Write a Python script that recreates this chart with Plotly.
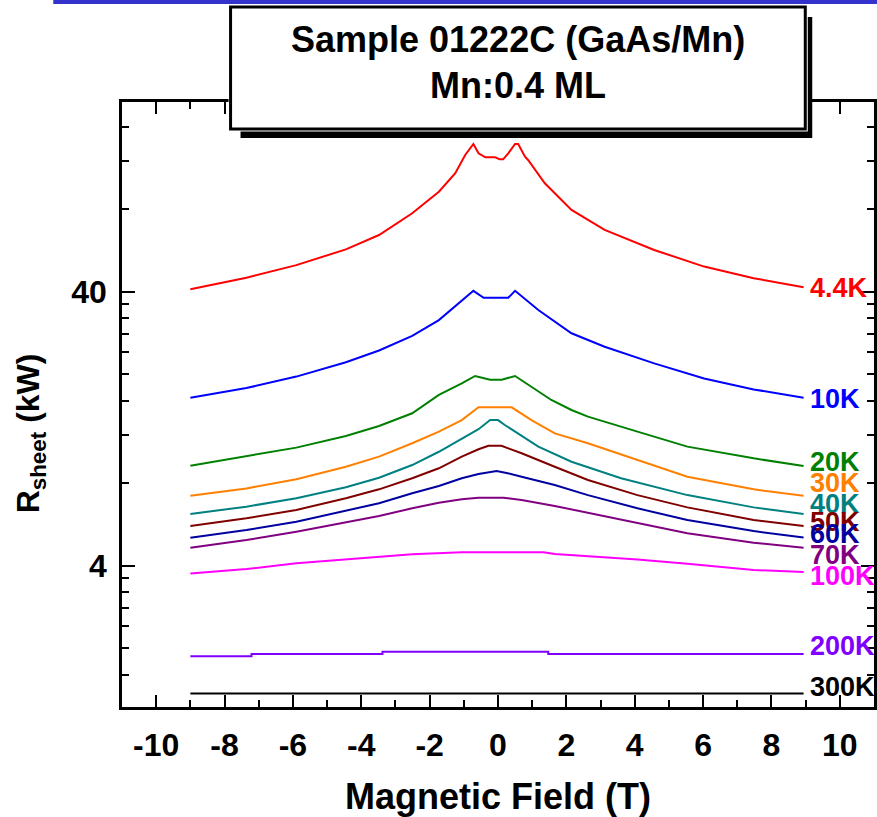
import numpy as np
import plotly.graph_objects as go

# ---------------- data ----------------
temps = ["4.4K", "10K", "20K", "30K", "40K", "50K", "60K", "70K", "100K", "200K", "300K"]
colors = ["#ff0000", "#0000ff", "#008000", "#ff8000", "#008080", "#800000",
          "#0000a0", "#800080", "#ff00ff", "#8000ff", "#000000"]

b_4k4 = [-9.0, -7.36, -5.90, -4.45, -3.48, -2.51, -1.73, -1.25, -0.96, -0.72, -0.57, -0.37,
         -0.08, 0.05, 0.15, 0.30, 0.50, 0.59, 0.79, 0.88, 1.37, 2.15, 3.12, 4.57, 6.03, 7.48, 8.94]
r_4k4 = [40.8, 45.0, 50.0, 57.1, 64.4, 77.3, 92.7, 108.2, 126.2, 138.4, 128.0, 123.8,
         123.8, 121.7, 121.7, 128.0, 138.4, 138.4, 124.4, 121.0, 99.5, 79.5, 67.2, 56.8, 49.4, 44.8, 41.5]

b_10k = [-9.0, -7.36, -5.90, -4.45, -3.48, -2.51, -1.73, -1.25, -0.72, -0.42, 0.30, 0.50,
         1.18, 2.15, 3.12, 4.57, 6.03, 7.48, 8.94]
r_10k = [16.4, 17.8, 19.6, 22.1, 24.4, 27.6, 31.5, 35.3, 40.3, 38.0, 38.0, 40.3,
         34.3, 28.2, 25.2, 21.9, 19.3, 17.6, 16.4]

b_20k = [-9.0, -7.36, -5.90, -4.45, -3.48, -2.51, -1.73, -1.06, -0.67, -0.23, 0.11, 0.50,
         1.18, 1.56, 2.15, 2.63, 4.08, 5.54, 7.48, 8.94]
r_20k = [9.27, 10.06, 10.79, 11.9, 12.94, 14.4, 16.8, 18.5, 19.7, 19.1, 19.1, 19.7,
         17.3, 16.1, 14.8, 14.0, 12.34, 10.88, 9.86, 9.25]

b_30k = [-9.0, -7.36, -5.90, -4.45, -3.48, -2.51, -1.73, -1.06, -0.57, 0.40, 0.98, 1.66,
         2.63, 4.08, 5.54, 7.48, 8.94]
r_30k = [7.2, 7.66, 8.27, 9.19, 10.0, 11.19, 12.34, 13.6, 15.14, 15.14, 13.6, 12.16,
         11.19, 9.72, 8.45, 7.6, 7.2]

b_40k = [-9.0, -7.36, -5.90, -4.45, -3.48, -2.51, -1.73, -1.06, -0.57, -0.23, 0.0, 0.20,
         1.18, 2.15, 3.60, 5.54, 7.48, 8.94]
r_40k = [6.18, 6.57, 7.05, 7.73, 8.38, 9.32, 10.42, 11.67, 12.6, 13.6, 13.6, 13.05,
         10.88, 9.58, 8.34, 7.24, 6.53, 6.18]

b_50k = [-9.0, -7.36, -5.90, -4.45, -3.48, -2.51, -1.73, -1.06, -0.57, -0.28, 0.10, 0.69,
         1.66, 2.63, 4.08, 5.54, 7.48, 8.94]
r_50k = [5.58, 5.96, 6.39, 7.05, 7.6, 8.34, 9.07, 10.0, 10.64, 10.96, 10.96, 10.29,
         9.19, 8.22, 7.24, 6.53, 5.87, 5.58]

b_60k = [-9.0, -7.36, -5.90, -4.45, -3.48, -2.51, -1.73, -1.06, -0.57, -0.04, 0.25, 0.69,
         1.66, 2.63, 4.08, 5.54, 7.48, 8.94]
r_60k = [5.06, 5.40, 5.79, 6.34, 6.76, 7.35, 7.82, 8.34, 8.65, 8.86, 8.72, 8.45,
         7.88, 7.24, 6.48, 5.87, 5.35, 5.07]

b_70k = [-9.0, -7.36, -5.90, -4.45, -3.48, -2.51, -1.73, -1.06, -0.57, 0.16, 0.69, 1.66,
         2.63, 4.08, 5.54, 7.48, 8.94]
r_70k = [4.65, 4.96, 5.32, 5.74, 6.07, 6.48, 6.79, 6.99, 7.08, 7.08, 6.95, 6.61,
         6.24, 5.71, 5.25, 4.85, 4.65]

b_100k = [-9.0, -7.36, -5.90, -4.45, -3.48, -2.51, -1.06, 1.33, 1.66, 2.63, 4.08, 5.54, 7.48, 8.94]
r_100k = [3.75, 3.89, 4.08, 4.22, 4.31, 4.40, 4.48, 4.48, 4.41, 4.33, 4.21, 4.07, 3.86, 3.79]

b_200k = [-9.0, -7.21, -3.38, 1.47, 8.94]
r_200k = [1.87, 1.905, 1.94, 1.905, 1.905]

b_300k = [-9.0, 8.94]
r_300k = [1.367, 1.367]

series_b = [b_4k4, b_10k, b_20k, b_30k, b_40k, b_50k, b_60k, b_70k, b_100k, b_200k, b_300k]
series_r = [r_4k4, r_10k, r_20k, r_30k, r_40k, r_50k, r_60k, r_70k, r_100k, r_200k, r_300k]

# label positions (resistance values where each temperature label sits)
label_r = [41.26, 16.23, 9.58, 8.01, 6.72, 5.78, 5.22, 4.38, 3.67, 2.04, 1.444]

x_ticks = list(range(-10, 11, 2))
y_major = [4, 40]
y_minor = [1.6, 2.0, 2.4, 2.8, 3.2, 3.6, 8, 12, 16, 20, 24, 28, 32, 36, 80, 120, 160]

title_lines = ["Sample 01222C (GaAs/Mn)", "Mn:0.4 ML"]

# ---------------- figure ----------------
W, H = 877, 817
L, R, T, B = 122, 0, 102, 110
pw, ph = W - L - R, H - T - B

def px(x):
    return (x - L) / pw

def py(y):
    return (H - B - y) / ph

FONT = "Liberation Sans, Arial, sans-serif"

fig = go.Figure()
for name, bx, ry, c in zip(temps, series_b, series_r, colors):
    fig.add_trace(go.Scatter(
        x=bx, y=ry, mode="lines", name=name,
        line=dict(color=c, width=2, shape="hv" if name == "200K" else "linear"),
        showlegend=False, hoverinfo="skip"))

for name, lr, c in zip(temps, label_r, colors):
    fig.add_annotation(x=px(811), xref="paper", y=np.log10(lr), yref="y",
                       text=name, showarrow=False, xanchor="left", yanchor="middle",
                       font=dict(family=FONT, size=27, color=c, weight="bold"))

# axis titles
fig.add_annotation(x=px(500), y=py(796), xref="paper", yref="paper",
                   text="Magnetic Field (T)", showarrow=False,
                   xanchor="center", yanchor="middle",
                   font=dict(family=FONT, size=36, color="black", weight="bold"))
fig.add_annotation(x=px(30), y=py(433), xref="paper", yref="paper",
                   text="R<sub>sheet</sub> (kW)", showarrow=False, textangle=-90,
                   xanchor="center", yanchor="middle",
                   font=dict(family=FONT, size=32, color="black", weight="bold"))

# top blue line
fig.add_shape(type="rect", xref="paper", yref="paper",
              x0=px(53), x1=px(880), y0=py(0), y1=py(4),
              fillcolor="#3333cc", line=dict(width=0), layer="above")

# title box with shadow
fig.add_shape(type="rect", xref="paper", yref="paper",
              x0=px(241), x1=px(815), y0=py(17), y1=py(138),
              fillcolor="black", line=dict(width=0), layer="above")
fig.add_shape(type="rect", xref="paper", yref="paper",
              x0=px(229), x1=px(810.5), y0=py(5), y1=py(131.5),
              fillcolor="white", line=dict(width=0), layer="above")
fig.add_shape(type="rect", xref="paper", yref="paper",
              x0=px(231), x1=px(808), y0=py(7), y1=py(129),
              fillcolor="white", line=dict(color="black", width=3), layer="above")
fig.add_annotation(x=px(519.5), y=py(40), xref="paper", yref="paper",
                   text=title_lines[0], showarrow=False, xanchor="center", yanchor="middle",
                   font=dict(family=FONT, size=36, color="black", weight="bold"))
fig.add_annotation(x=px(519.5), y=py(86), xref="paper", yref="paper",
                   text=title_lines[1], showarrow=False, xanchor="center", yanchor="middle",
                   font=dict(family=FONT, size=36, color="black", weight="bold"))

fig.update_layout(
    width=W, height=H, margin=dict(l=L, r=R, t=T, b=B, pad=0),
    paper_bgcolor="white", plot_bgcolor="white",
    xaxis=dict(range=[-11, 11], tickmode="array", tickvals=x_ticks,
               ticktext=[str(v) for v in x_ticks],
               ticks="inside", ticklen=12, tickwidth=2, tickcolor="black",
               minor=dict(tickmode="array", tickvals=list(range(-11, 12, 2)),
                          ticks="inside", ticklen=7, tickwidth=2, tickcolor="black"),
               showline=True, linecolor="black", linewidth=2.5, mirror="ticks",
               showgrid=False, zeroline=False,
               tickfont=dict(family=FONT, size=32, color="black", weight="bold"),
               ticklabelstandoff=8),
    yaxis=dict(type="log", range=[0.0864, 2.2944], tickmode="array", tickvals=y_major,
               ticktext=[str(v) for v in y_major],
               ticks="inside", ticklen=13, tickwidth=2, tickcolor="black",
               minor=dict(tickmode="array", tickvals=y_minor,
                          ticks="inside", ticklen=7, tickwidth=2, tickcolor="black"),
               showline=True, linecolor="black", linewidth=2.5, mirror="ticks",
               showgrid=False, zeroline=False,
               tickfont=dict(family=FONT, size=32, color="black", weight="bold"),
               ticklabelstandoff=6),
)

fig.write_html("out.html")
